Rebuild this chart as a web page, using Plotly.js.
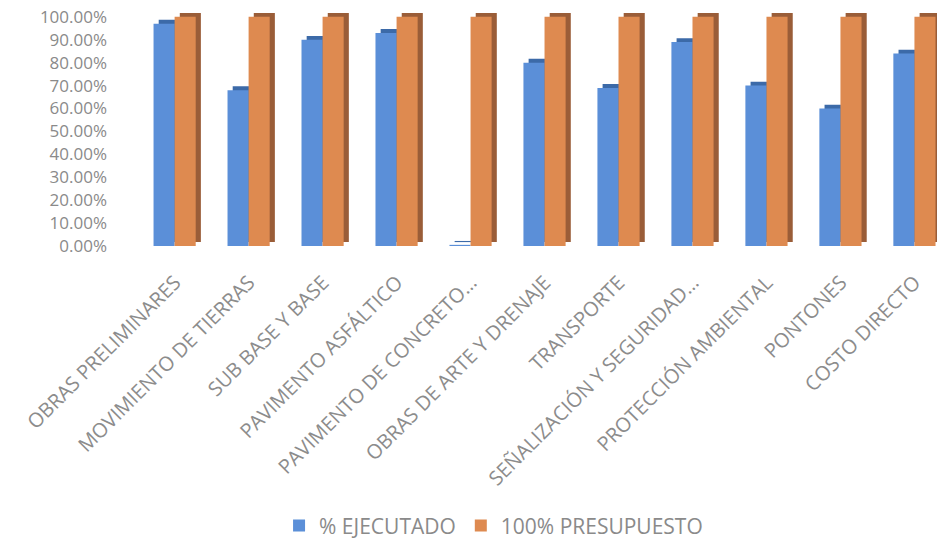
<!DOCTYPE html>
<html>
<head>
<meta charset="utf-8">
<script src="https://cdn.plot.ly/plotly-3.0.1.min.js"></script>
<style>
  html, body { margin: 0; padding: 0; background: #ffffff; }
  #chart { width: 937px; height: 542px; }
</style>
</head>
<body>
<div id="chart"></div>
<script>
// Partidas del presupuesto
const categories = [
  "OBRAS PRELIMINARES",
  "MOVIMIENTO DE TIERRAS",
  "SUB BASE Y BASE",
  "PAVIMENTO ASFÁLTICO",
  "PAVIMENTO DE CONCRETO…",
  "OBRAS DE ARTE Y DRENAJE",
  "TRANSPORTE",
  "SEÑALIZACIÓN Y SEGURIDAD…",
  "PROTECCIÓN AMBIENTAL",
  "PONTONES",
  "COSTO DIRECTO"
];

// Avance ejecutado (fracción) y presupuesto (100%)
const ejecutado   = [0.97, 0.68, 0.90, 0.93, 0.005, 0.80, 0.69, 0.89, 0.70, 0.60, 0.84];
const presupuesto = [1.00, 1.00, 1.00, 1.00, 1.00, 1.00, 1.00, 1.00, 1.00, 1.00, 1.00];

const yTicks = [0, 0.1, 0.2, 0.3, 0.4, 0.5, 0.6, 0.7, 0.8, 0.9, 1.0];

// Extrusion used to give the columns a simple 3-D look
const depthX = 0.07;   // category units
const depthY = 0.017;  // value units
const barW = 0.285;

function face(values, off, color, name) {
  return {
    type: 'bar', x: categories, y: values, name: name,
    offset: off, width: barW, marker: { color: color, line: { width: 0 } },
    hoverinfo: 'skip'
  };
}
function side(values, off, color) {
  return {
    type: 'bar', x: categories, y: values, base: depthY,
    offset: off + depthX, width: barW,
    marker: { color: color, line: { width: 0 } },
    showlegend: false, hoverinfo: 'skip'
  };
}

const blue = '#5b8fd8', blueDark = '#3c6aa8';
const orange = '#de8a50', orangeDark = '#9a5d38';

const traces = [
  side(ejecutado, -0.29, blueDark),
  face(ejecutado, -0.29, blue, '% EJECUTADO'),
  side(presupuesto, -0.005, orangeDark),
  face(presupuesto, -0.005, orange, '100% PRESUPUESTO')
];

const layout = {
  width: 937, height: 542,
  paper_bgcolor: '#ffffff', plot_bgcolor: '#ffffff',
  margin: { l: 138, r: 0, t: 10, b: 296 },
  barmode: 'overlay',
  font: { family: 'Open Sans, Noto Sans, sans-serif', color: '#868686' },
  xaxis: {
    type: 'category',
    range: [-0.5, 10.3],
    tickangle: -45,
    tickfont: { size: 20, color: '#8c8c8c' },
    showgrid: false, zeroline: false, showline: false, ticks: '',
    ticklabelstandoff: 20
  },
  yaxis: {
    range: [0, 1.03],
    tickvals: yTicks,
    tickformat: '.2%',
    tickfont: { size: 17, color: '#8a8a8a' },
    showgrid: false, zeroline: false, showline: false, ticks: '',
    ticklabelstandoff: 30
  },
  legend: {
    orientation: 'h', x: 0.445, xanchor: 'center',
    yref: 'container', y: 0.03, yanchor: 'middle',
    font: { size: 21, color: '#8a8a8a' },
    itemwidth: 30, tracegroupgap: 0
  },
  showlegend: true
};

Plotly.newPlot('chart', traces, layout, { staticPlot: true, displayModeBar: false });
</script>
</body>
</html>
